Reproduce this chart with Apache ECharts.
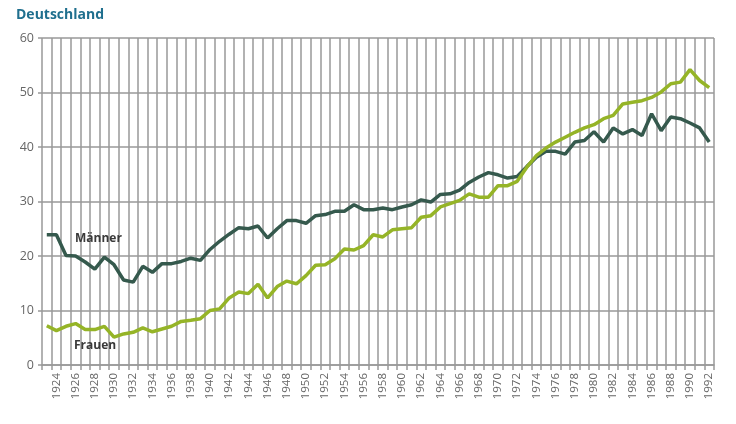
<!DOCTYPE html>
<html>
<head>
<meta charset="utf-8">
<script src="https://cdn.jsdelivr.net/npm/echarts@6/dist/echarts.min.js"></script>
<style>html,body{margin:0;padding:0;background:#fff}#c{width:736px;height:424px}</style>
</head>
<body>
<div id="c"></div>
<script>
var years = [];
for (var y = 1923; y <= 1992; y++) years.push(String(y));

var maenner = [23.9,23.9,20.1,20.0,18.9,17.6,19.8,18.4,15.6,15.2,
  18.1,17.0,18.6,18.6,19.0,19.6,19.2,21.2,22.7,24.0,
  25.2,25.0,25.5,23.3,25.0,26.5,26.5,26.0,27.4,27.6,
  28.2,28.2,29.4,28.5,28.5,28.8,28.5,29.0,29.4,30.3,
  29.9,31.3,31.4,32.1,33.5,34.5,35.3,34.9,34.3,34.6,
  36.4,38.1,39.2,39.2,38.7,40.9,41.2,42.8,40.9,43.5,
  42.4,43.2,42.1,46.1,43.0,45.5,45.2,44.4,43.5,40.9];

var frauen = [7.2,6.3,7.1,7.6,6.5,6.5,7.1,5.1,5.7,6.0,
  6.8,6.1,6.6,7.1,8.0,8.2,8.5,10.0,10.3,12.3,
  13.4,13.1,14.8,12.3,14.4,15.4,14.9,16.4,18.3,18.4,
  19.5,21.3,21.1,21.9,23.9,23.5,24.8,25.0,25.2,27.1,
  27.4,29.0,29.6,30.2,31.4,30.8,30.8,32.9,32.9,33.7,
  36.3,38.4,39.8,40.9,41.8,42.7,43.5,44.1,45.2,45.8,
  47.9,48.2,48.5,49.1,50.1,51.6,51.9,54.2,52.2,50.9];

var title = "Deutschland";
var seriesNames = ["Männer", "Frauen"];

var chart = echarts.init(document.getElementById('c'), null, {renderer: 'canvas'});
var gridColor = '#999999';
chart.setOption({
  animation: false,
  backgroundColor: '#fff',
  title: {
    text: title, left: 11, top: 3,
    textStyle: {fontFamily: 'Open Sans', fontWeight: 'bold', fontSize: 14, color: '#1f6f8e'}
  },
  grid: {left: 42, right: 22, top: 38, bottom: 59, containLabel: false},
  xAxis: {
    type: 'category', data: years, boundaryGap: true,
    axisLine: {lineStyle: {color: gridColor, width: 1.5}},
    axisTick: {show: true, interval: 0, length: 5, lineStyle: {color: gridColor, width: 1.5}},
    splitLine: {show: true, interval: 0, lineStyle: {color: gridColor, width: 1.5}},
    axisLabel: {
      rotate: 90, margin: 8, color: '#666', fontFamily: 'Open Sans', fontSize: 11.5,
      interval: function (i, v) { return (parseInt(v, 10) % 2) === 0; }
    }
  },
  yAxis: {
    type: 'value', min: 0, max: 60, interval: 10,
    axisLine: {show: false},
    axisTick: {show: true, length: 4, lineStyle: {color: gridColor, width: 1.5}},
    splitLine: {show: true, lineStyle: {color: gridColor, width: 1.5}},
    axisLabel: {color: '#666', fontFamily: 'Open Sans', fontSize: 12.5, margin: 8}
  },
  series: [
    {name: seriesNames[0], type: 'line', data: maenner, symbol: 'none',
     lineStyle: {color: '#35594d', width: 3.5}, z: 3},
    {name: seriesNames[1], type: 'line', data: frauen, symbol: 'none',
     lineStyle: {color: '#95b427', width: 3.5}, z: 4}
  ],
  graphic: [
    {type: 'text', left: 75, top: 233, z: 10,
     style: {text: seriesNames[0], fill: '#3a3a3a', font: 'bold 12px "Open Sans"'}},
    {type: 'text', left: 74, top: 340, z: 10,
     style: {text: seriesNames[1], fill: '#3a3a3a', font: 'bold 12px "Open Sans"'}}
  ]
});
</script>
</body>
</html>
